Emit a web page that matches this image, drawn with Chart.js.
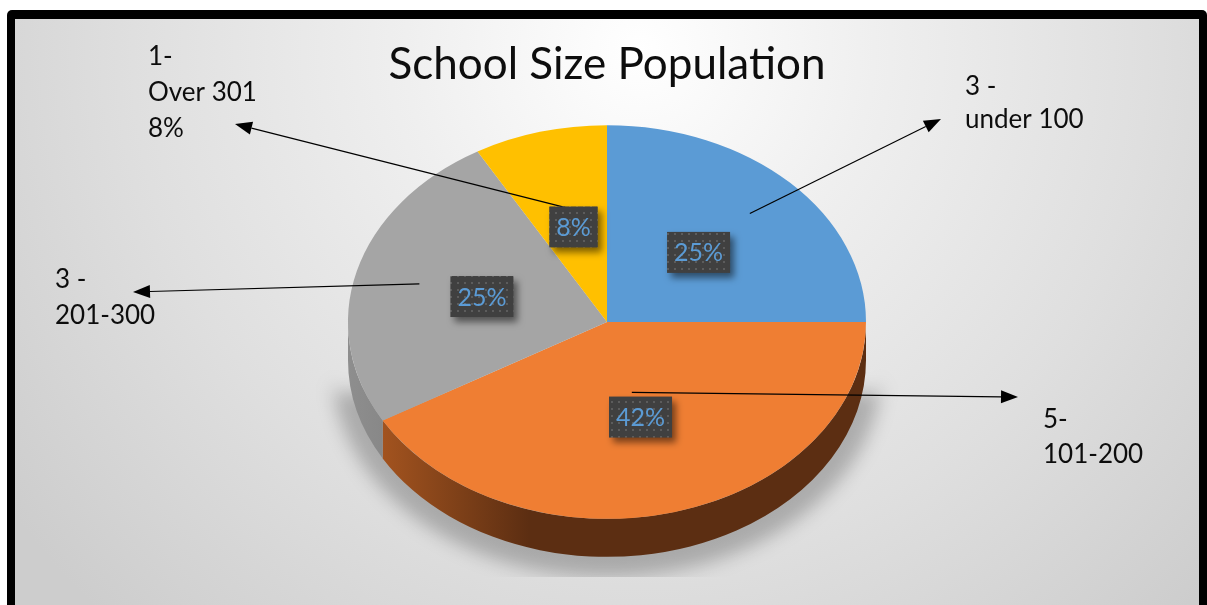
<!DOCTYPE html>
<html>
<head>
<meta charset="utf-8">
<script src="https://cdn.jsdelivr.net/npm/chart.js@4.4.1/dist/chart.umd.min.js"></script>
<style>
  html, body { margin: 0; padding: 0; background: #fff; }
</style>
</head>
<body>
<canvas id="schoolPie" width="1207" height="605"></canvas>
<script>
// data
const categories = ['under 100', '101-200', '201-300', 'Over 301'];
const schools = [3, 5, 3, 1];
const calloutText = [['3 -', 'under 100'], ['5-', '101-200'], ['3 -', '201-300'], ['1-', 'Over 301', '8%']];

// styling
const faceColors = ['#5b9bd5', '#ef7e33', '#a5a5a5', '#ffc000'];
const sideColors = [
  ['#3f73a3', '#2d5479'],
  ['#b35c22', '#5c2e12'],
  ['#8e8e8e', '#6e6e6e'],
  ['#c79500', '#946f00']
];
const TILT = 0.76;       // vertical squash of the pie face
const FACE_Y = 322;      // screen centre of the face
const DEPTH = 38;        // thickness of the pie
const SHADOW_FLOOR = 577;

// where the outside labels sit, and where on the slice the arrow starts
const callouts = [
  { x: 965, y: 95, gap: 33, tip: [941, 119], frac: 0.78 },
  { x: 1043, y: 428, gap: 35, tip: [1018, 397], frac: 0.37 },
  { x: 55, y: 288, gap: 36, tip: [133, 292], frac: 0.75 },
  { x: 148, y: 65, gap: 36, tip: [235, 124], frac: 0.6 }
];

const tile = document.createElement('canvas');
tile.width = tile.height = 7;
const tctx = tile.getContext('2d');
tctx.fillStyle = '#404040';
tctx.fillRect(0, 0, 7, 7);
tctx.fillStyle = '#5c5c5c';
tctx.fillRect(2, 2, 2, 2);

function arrow(ctx, x0, y0, x1, y1) {
  const ang = Math.atan2(y1 - y0, x1 - x0);
  const len = 17, half = 6.5;
  const bx = x1 - Math.cos(ang) * len, by = y1 - Math.sin(ang) * len;
  ctx.strokeStyle = '#000';
  ctx.lineWidth = 1.2;
  ctx.beginPath();
  ctx.moveTo(x0, y0);
  ctx.lineTo(bx, by);
  ctx.stroke();
  ctx.fillStyle = '#000';
  ctx.beginPath();
  ctx.moveTo(x1, y1);
  ctx.lineTo(bx - Math.sin(ang) * half, by + Math.cos(ang) * half);
  ctx.lineTo(bx + Math.sin(ang) * half, by - Math.cos(ang) * half);
  ctx.closePath();
  ctx.fill();
}

const pie3d = {
  id: 'pie3d',
  beforeDraw(chart) {
    const ctx = chart.ctx;
    const w = chart.width, h = chart.height;
    ctx.save();
    ctx.fillStyle = '#fff';
    ctx.fillRect(0, 0, w, h);
    ctx.fillStyle = '#000';
    ctx.beginPath();
    ctx.roundRect(7, 10, w - 7, h, 5);
    ctx.fill();
    const bg = ctx.createRadialGradient(640, 50, 0, 640, 50, 780);
    bg.addColorStop(0, '#ffffff');
    bg.addColorStop(0.3, '#efefef');
    bg.addColorStop(0.65, '#dfdfdf');
    bg.addColorStop(1, '#cdcdcd');
    ctx.fillStyle = bg;
    ctx.fillRect(15, 19, w - 23, h - 19);
    ctx.restore();
  },
  beforeDatasetsDraw(chart) {
    const ctx = chart.ctx;
    const arcs = chart.getDatasetMeta(0).data;
    const { x: cx, y: cy, outerRadius: r } = arcs[0];
    const ry = r * TILT;

    // soft shadow under the pie
    ctx.save();
    ctx.beginPath();
    ctx.rect(0, 0, chart.width, SHADOW_FLOOR);
    ctx.clip();
    ctx.filter = 'blur(9px)';
    ctx.fillStyle = 'rgba(0,0,0,0.24)';
    ctx.beginPath();
    ctx.ellipse(cx, FACE_Y + DEPTH + 8, r + 16, ry + 12, 0, 0, Math.PI);
    ctx.lineTo(cx - r - 16, FACE_Y + 70);
    ctx.lineTo(cx + r + 16, FACE_Y + 70);
    ctx.closePath();
    ctx.fill();
    ctx.restore();

    // side walls of the front half
    arcs.forEach((arc, i) => {
      const a0 = Math.max(arc.startAngle, 0);
      const a1 = Math.min(arc.endAngle, Math.PI);
      if (a1 <= a0) return;
      const g = ctx.createLinearGradient(cx - r, 0, cx + r, 0);
      g.addColorStop(0, sideColors[i][0]);
      g.addColorStop(0.35, sideColors[i][1]);
      g.addColorStop(1, sideColors[i][1]);
      ctx.fillStyle = g;
      ctx.beginPath();
      ctx.ellipse(cx, FACE_Y, r, ry, 0, a0, a1);
      ctx.ellipse(cx, FACE_Y + DEPTH, r, ry, 0, a1, a0, true);
      ctx.closePath();
      ctx.fill();
    });

    // squash the face into an ellipse
    ctx.save();
    ctx.translate(cx, FACE_Y);
    ctx.scale(1, TILT);
    ctx.translate(-cx, -cy);
  },
  afterDatasetsDraw(chart) {
    const ctx = chart.ctx;
    ctx.restore();
    const arcs = chart.getDatasetMeta(0).data;
    const { x: cx, outerRadius: r } = arcs[0];
    const ry = r * TILT;
    const total = schools.reduce((a, b) => a + b, 0);

    ctx.save();
    // arrows to the outside labels
    arcs.forEach((arc, i) => {
      const mid = (arc.startAngle + arc.endAngle) / 2;
      const c = callouts[i];
      const sx = cx + Math.cos(mid) * r * c.frac;
      const sy = FACE_Y + Math.sin(mid) * ry * c.frac;
      arrow(ctx, sx, sy, c.tip[0], c.tip[1]);
    });

    // percentage boxes
    const pattern = ctx.createPattern(tile, 'repeat');
    ctx.font = '25px Lato';
    arcs.forEach((arc, i) => {
      const mid = (arc.startAngle + arc.endAngle) / 2;
      const lx = cx + Math.cos(mid) * r * 0.5;
      const ly = FACE_Y + Math.sin(mid) * ry * 0.5;
      const txt = Math.round(schools[i] / total * 100) + '%';
      const bw = ctx.measureText(txt).width + 14, bh = 41;
      ctx.save();
      ctx.shadowColor = 'rgba(0,0,0,0.5)';
      ctx.shadowBlur = 7;
      ctx.shadowOffsetX = 4;
      ctx.shadowOffsetY = 5;
      ctx.fillStyle = pattern;
      ctx.fillRect(lx - bw / 2, ly - bh / 2, bw, bh);
      ctx.restore();
      ctx.fillStyle = '#5b9bd5';
      ctx.textAlign = 'center';
      ctx.textBaseline = 'middle';
      ctx.fillText(txt, lx, ly + 1);
    });

    // outside labels
    ctx.font = '26px Lato';
    ctx.fillStyle = '#0d0d0d';
    ctx.textAlign = 'left';
    ctx.textBaseline = 'alphabetic';
    callouts.forEach((c, i) => {
      calloutText[i].forEach((line, k) => ctx.fillText(line, c.x, c.y + k * c.gap));
    });
    ctx.restore();
  }
};

new Chart(document.getElementById('schoolPie'), {
  type: 'pie',
  data: {
    labels: categories,
    datasets: [{
      data: schools,
      backgroundColor: faceColors,
      borderWidth: 0,
      hoverBorderWidth: 0,
      hoverOffset: 0
    }]
  },
  options: {
    responsive: false,
    animation: false,
    events: [],
    layout: { padding: { top: 0, left: 347, right: 340, bottom: 0 } },
    plugins: {
      legend: { display: false },
      tooltip: { enabled: false },
      title: {
        display: true,
        text: 'School Size Population',
        color: '#0d0d0d',
        font: { family: 'Lato', size: 44, weight: 'normal', lineHeight: 1 },
        padding: { top: 43, bottom: 0 }
      }
    }
  },
  plugins: [pie3d]
});
</script>
</body>
</html>
